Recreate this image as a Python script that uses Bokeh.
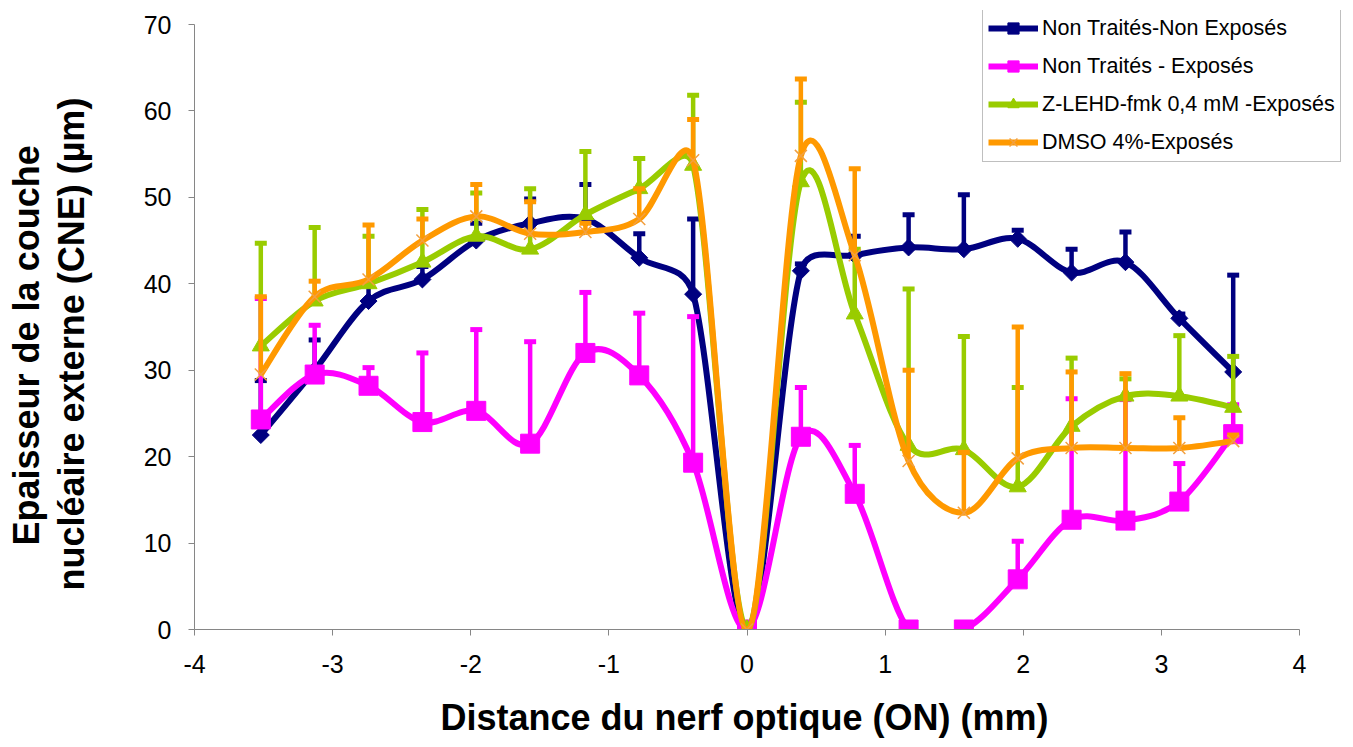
import math
from bokeh.plotting import figure
from bokeh.models import Range1d, Legend, LegendItem, FixedTicker, ColumnDataSource, Title
from bokeh.embed import file_html
from bokeh.resources import INLINE

# ---------------- data ----------------
distance = [-3.52, -3.13, -2.74, -2.35, -1.96, -1.57, -1.17, -0.78, -0.39, 0.0,
            0.39, 0.78, 1.17, 1.57, 1.96, 2.35, 2.74, 3.13, 3.52]

series_names = ["Non Traités-Non Exposés", "Non Traités - Exposés",
                "Z-LEHD-fmk 0,4 mM -Exposés", "DMSO 4%-Exposés"]

nt_ne = [22.5, 30.0, 38.0, 40.5, 45.0, 47.0, 47.5, 43.0, 38.8, 0.0,
         41.5, 43.3, 44.2, 44.0, 45.2, 41.3, 42.5, 36.0, 29.8]
nt_ne_err = [6.3, 3.5, 2.0, 1.5, 2.0, 2.8, 4.0, 2.8, 8.7, 0.0,
             0.8, 2.2, 3.8, 6.3, 1.0, 2.7, 3.5, 0.5, 11.2]

nt_e = [24.3, 29.5, 28.2, 24.0, 25.3, 21.5, 32.0, 29.4, 19.3, 0.0,
        22.3, 15.7, 0.0, 0.0, 5.8, 12.7, 12.6, 14.8, 22.6]
nt_e_err = [14.0, 5.7, 2.1, 8.0, 9.4, 11.8, 7.0, 7.2, 16.9, 0.0,
            5.7, 5.6, 0.0, 0.0, 4.4, 14.0, 14.0, 4.4, 3.4]

zlehd_e = [32.8, 38.0, 40.0, 42.5, 45.5, 44.0, 48.0, 51.0, 53.7, 0.0,
           51.8, 36.5, 21.3, 20.8, 16.5, 23.5, 27.0, 27.0, 25.7]
zlehd_e_err = [11.9, 8.5, 5.5, 6.1, 5.0, 7.0, 7.3, 3.5, 8.1, 0.0,
               9.2, 7.5, 18.1, 13.1, 11.5, 7.9, 2.0, 7.0, 5.9]

dmso_e = [29.5, 38.5, 40.5, 45.0, 47.8, 45.8, 46.0, 47.5, 54.3, 0.0,
          54.8, 43.3, 19.5, 13.5, 19.8, 21.0, 21.0, 21.0, 21.8]
dmso_e_err = [9.0, 1.8, 6.3, 2.5, 3.7, 3.7, 1.0, 3.5, 4.7, 0.0,
              8.9, 10.0, 10.5, 7.0, 15.2, 8.8, 8.6, 3.5, 0.7]

x_ticks = [-4, -3, -2, -1, 0, 1, 2, 3, 4]
y_ticks = [0, 10, 20, 30, 40, 50, 60, 70]

x_title = "Distance du nerf optique (ON) (mm)"
y_title_lines = ["Epaisseur de la couche", "nucléaire externe (CNE) (µm)"]

FONT = "Liberation Sans"

# layout (screen px)
LEFT, TOP = 194, 10
FRAME_W, FRAME_H = 1151, 619
PX_X = 1105 / 8.0      # px per x unit (axis -4..4 spans 1105 px)
PX_Y = 605 / 70.0      # px per y unit (axis 0..70 spans 605 px)
X_END = -4 + FRAME_W / PX_X
Y_END = FRAME_H / PX_Y


def smooth_segments(xs, ys):
    """Bezier control points for a spreadsheet-like 'smoothed line'
    (Catmull-Rom tangents, limited to half of each segment's screen length)."""
    n = len(xs)
    out = dict(x0=[], y0=[], x1=[], y1=[], cx0=[], cy0=[], cx1=[], cy1=[])

    def tangent(i, seg_a, seg_b):
        xm, ym = (xs[i - 1], ys[i - 1]) if i > 0 else (xs[i], ys[i])
        xp, yp = (xs[i + 1], ys[i + 1]) if i + 1 < n else (xs[i], ys[i])
        vx, vy = (xp - xm) / 6.0 * PX_X, (yp - ym) / 6.0 * PX_Y
        sx, sy = (xs[seg_b] - xs[seg_a]) * PX_X, (ys[seg_b] - ys[seg_a]) * PX_Y
        lim = 0.5 * math.hypot(sx, sy)
        ln = math.hypot(vx, vy)
        if ln > lim and ln > 0:
            vx, vy = vx * lim / ln, vy * lim / ln
        return vx / PX_X, vy / PX_Y

    for i in range(n - 1):
        tx0, ty0 = tangent(i, i, i + 1)
        tx1, ty1 = tangent(i + 1, i, i + 1)
        out["x0"].append(xs[i]); out["y0"].append(ys[i])
        out["x1"].append(xs[i + 1]); out["y1"].append(ys[i + 1])
        out["cx0"].append(xs[i] + tx0); out["cy0"].append(ys[i] + ty0)
        out["cx1"].append(xs[i + 1] - tx1); out["cy1"].append(ys[i + 1] - ty1)
    return out


p = figure(width=LEFT + FRAME_W + 2, height=TOP + FRAME_H + 112,
           x_range=Range1d(-4, X_END), y_range=Range1d(0, Y_END),
           output_backend="svg", toolbar_location=None,
           min_border_left=LEFT, min_border_right=2, min_border_top=TOP, min_border_bottom=112)
p.outline_line_color = None
p.xgrid.grid_line_color = None
p.ygrid.grid_line_color = None
p.background_fill_color = "white"
p.border_fill_color = "white"

for ax in (p.xaxis[0], p.yaxis[0]):
    ax.axis_line_color = "#868686"
    ax.major_tick_line_color = "#868686"
    ax.major_tick_out = 6
    ax.major_tick_in = 0
    ax.minor_tick_line_color = None
    ax.major_label_text_font = FONT
    ax.major_label_text_font_size = "25px"
    ax.major_label_text_color = "black"

p.xaxis.ticker = FixedTicker(ticks=x_ticks)
p.yaxis.ticker = FixedTicker(ticks=y_ticks)
p.xaxis.bounds = (x_ticks[0], x_ticks[-1])
p.yaxis.bounds = (y_ticks[0], y_ticks[-1])
p.xaxis.major_label_overrides = {t: str(t) for t in x_ticks}
p.xaxis.major_label_standoff = 19
p.yaxis.major_label_standoff = 17


def title(text, offset, standoff, size="36px"):
    return Title(text=text, align="left", offset=offset, standoff=standoff,
                 text_font=FONT, text_font_size=size, text_font_style="bold",
                 text_color="black")


# axis titles (positioned along the axis extent, not the wider frame);
# thin blank titles act as spacers between the tick labels and the titles
p.add_layout(title(" ", 0, 16, "1px"), "below")
p.add_layout(title(x_title, 246, 0), "below")
p.add_layout(title(" ", 0, 45, "1px"), "left")
p.add_layout(title(y_title_lines[1], 39, 2), "left")
p.add_layout(title(y_title_lines[0], 84, 2), "left")

styles = [
    dict(color="#000080", marker="square", size=12, angle=0.785398, fill=True),
    dict(color="#FF00FF", marker="square", size=19, angle=0.0, fill=True),
    dict(color="#99CC00", marker="triangle", size=17, angle=0.0, fill=True),
    dict(color="#FF9900", marker="x", size=17, angle=0.0, fill=False),
]
values = [nt_ne, nt_e, zlehd_e, dmso_e]
errors = [nt_ne_err, nt_e_err, zlehd_e_err, dmso_e_err]

items = []
for name, ys, errs, st in zip(series_names, values, errors, styles):
    col = st["color"]
    seg = smooth_segments(distance, ys)
    br = p.bezier(x0="x0", y0="y0", x1="x1", y1="y1", cx0="cx0", cy0="cy0",
                  cx1="cx1", cy1="cy1", source=ColumnDataSource(seg),
                  line_color=col, line_width=6)
    ex = [x for x, e in zip(distance, errs) if e > 0]
    ey0 = [y for y, e in zip(ys, errs) if e > 0]
    ey1 = [y + e for y, e in zip(ys, errs) if e > 0]
    p.segment(x0=ex, y0=ey0, x1=ex, y1=ey1, line_color=col, line_width=4.5)
    p.scatter(x=ex, y=ey1, marker="dash", size=12, line_color=col, line_width=5)
    if st["fill"]:
        sr = p.scatter(x=distance, y=ys, marker=st["marker"], size=st["size"],
                       angle=st["angle"], fill_color=col, line_color=col, line_width=1)
    else:
        sr = p.scatter(x=distance, y=ys, marker=st["marker"], size=st["size"],
                       line_color="#F2A040", line_width=1.5)
    items.append(LegendItem(label=name, renderers=[br, sr]))

legend = Legend(items=items, location=(788, 467))
legend.label_text_font = FONT
legend.label_text_font_size = "21.5px"
legend.label_text_color = "black"
legend.glyph_width = 50
legend.glyph_height = 28
legend.label_height = 28
legend.label_standoff = 4
legend.spacing = 10
legend.padding = 5
legend.margin = 0
legend.border_line_color = "#808080"
legend.border_line_width = 1
legend.background_fill_color = "white"
legend.background_fill_alpha = 1.0
p.add_layout(legend, "center")

open("out.html", "w").write(file_html(p, INLINE))
